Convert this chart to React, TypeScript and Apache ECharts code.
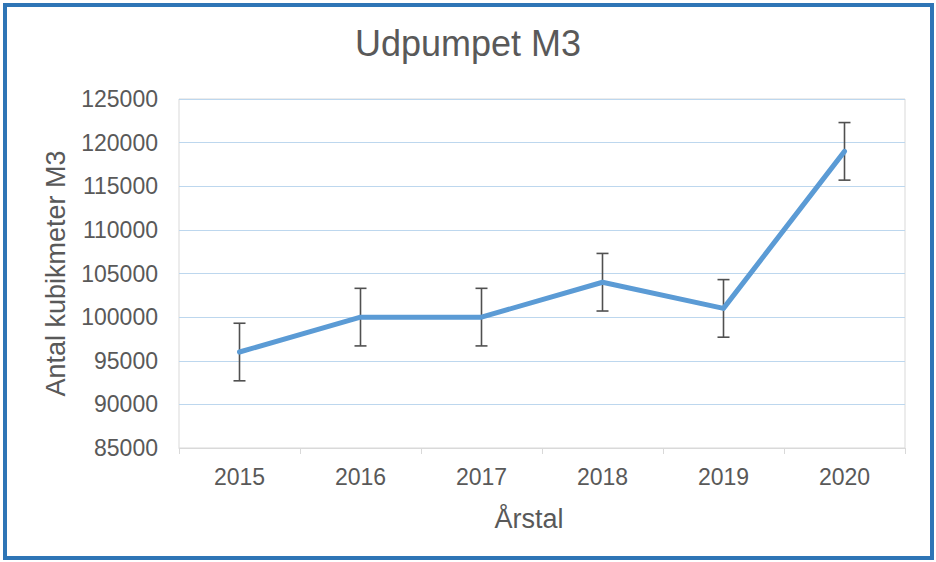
import React, { useEffect, useRef } from "react";
import * as echarts from "echarts";

const years = ["2015", "2016", "2017", "2018", "2019", "2020"];
const values = [96000, 100000, 100000, 104000, 101000, 119000];
const errorPlus = [3300, 3300, 3300, 3300, 3300, 3300];
const errorMinus = [3300, 3300, 3300, 3300, 3300, 3300];

const FONT = "'Liberation Sans', Arial, sans-serif";

export default function App() {
  const ref = useRef<HTMLDivElement>(null);
  useEffect(() => {
    const chart = echarts.init(ref.current!, null, { renderer: "svg" });
    const errData = years.map((y, i) => [i, values[i] - errorMinus[i], values[i] + errorPlus[i]]);
    chart.setOption({
      animation: false,
      backgroundColor: "#ffffff",
      textStyle: { fontFamily: FONT },
      title: {
        text: "Udpumpet M3",
        left: "center",
        top: 20,
        textStyle: { color: "#595959", fontSize: 36, fontWeight: "normal", fontFamily: FONT },
      },
      graphic: [
        {
          type: "rect",
          shape: { x: 5, y: 5, width: 927, height: 553 },
          style: { fill: "none", stroke: "#2E75B6", lineWidth: 4 },
          silent: true,
        },
      ],
      grid: {
        left: 179,
        right: 31,
        top: 99,
        bottom: 114,
        show: true,
        borderColor: "#D9D9D9",
        borderWidth: 1,
      },
      xAxis: {
        type: "category",
        data: years,
        boundaryGap: true,
        name: "Årstal",
        nameLocation: "middle",
        nameGap: 57,
        nameTextStyle: { color: "#595959", fontSize: 27, fontFamily: FONT, padding: [0, 26, 0, 0] },
        axisLine: { lineStyle: { color: "#D9D9D9", width: 1 } },
        axisTick: { show: true, length: 6, lineStyle: { color: "#D9D9D9" } },
        axisLabel: { color: "#595959", fontSize: 23, margin: 17, fontFamily: FONT },
      },
      yAxis: {
        type: "value",
        min: 85000,
        max: 125000,
        interval: 5000,
        name: "Antal kubikmeter M3",
        nameLocation: "middle",
        nameGap: 110,
        nameTextStyle: { color: "#595959", fontSize: 27, fontFamily: FONT },
        axisLine: { show: false },
        axisTick: { show: false },
        axisLabel: {
          color: "#595959",
          fontSize: 23,
          margin: 21,
          fontFamily: FONT,
          formatter: (v: number) => String(v),
        },
        splitLine: { lineStyle: { color: "#BDD7EE", width: 1.2 } },
      },
      series: [
        {
          type: "line",
          data: values,
          symbol: "none",
          lineStyle: { color: "#5B9BD5", width: 5, cap: "round", join: "round" },
          z: 3,
        },
        {
          type: "custom",
          data: errData,
          z: 2,
          renderItem: (params: any, api: any) => {
            const x = api.value(0);
            const lo = api.coord([x, api.value(1)]);
            const hi = api.coord([x, api.value(2)]);
            const hw = 6;
            const style = { stroke: "#505050", lineWidth: 1.6 };
            return {
              type: "group",
              children: [
                { type: "line", shape: { x1: hi[0], y1: hi[1], x2: lo[0], y2: lo[1] }, style },
                { type: "line", shape: { x1: hi[0] - hw, y1: hi[1], x2: hi[0] + hw, y2: hi[1] }, style },
                { type: "line", shape: { x1: lo[0] - hw, y1: lo[1], x2: lo[0] + hw, y2: lo[1] }, style },
              ],
            };
          },
        },
      ],
    });
    return () => chart.dispose();
  }, []);
  return (
    <div
      ref={ref}
      style={{ position: "absolute", left: 0, top: 0, width: 936, height: 562 }}
    />
  );
}
